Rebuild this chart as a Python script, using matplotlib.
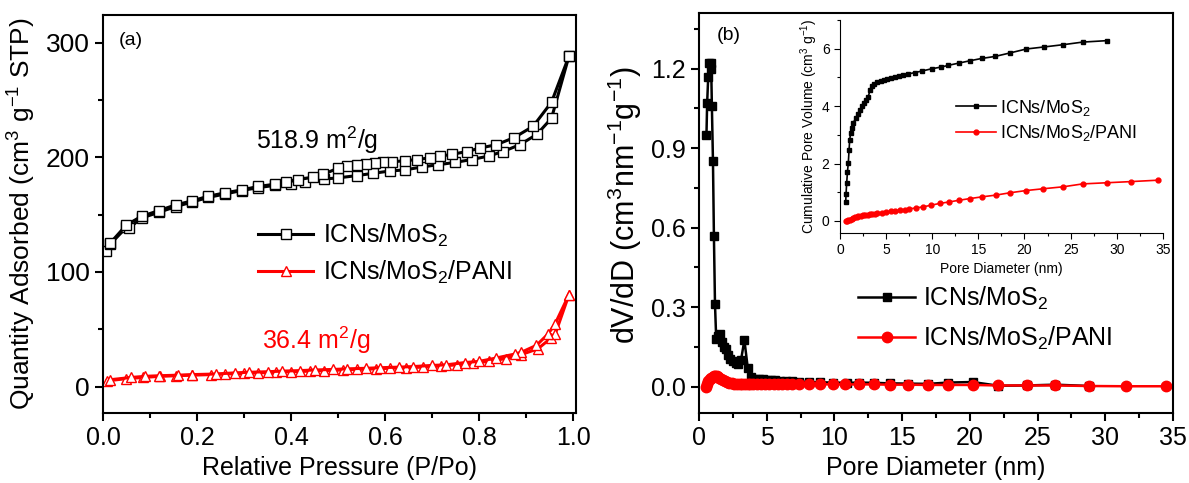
import matplotlib
matplotlib.use('Agg')
import matplotlib.pyplot as plt
from matplotlib.ticker import MultipleLocator

plt.rcParams['font.family'] = ['Liberation Sans', 'DejaVu Sans']
plt.rcParams['mathtext.fontset'] = 'custom'
plt.rcParams['mathtext.rm'] = 'Liberation Sans'
plt.rcParams['mathtext.it'] = 'Liberation Sans:italic'

# ---- (a) N2 isotherms ----
mos2_ads_p = [0.007, 0.015, 0.05, 0.055, 0.082, 0.119, 0.155, 0.19, 0.224, 0.26, 0.295, 0.33,
              0.366, 0.40, 0.43, 0.47, 0.50, 0.54, 0.575, 0.61, 0.643, 0.678, 0.713, 0.749,
              0.784, 0.82, 0.851, 0.887, 0.923, 0.954, 0.991]
mos2_ads_q = [118, 124, 139, 138, 147, 152, 157, 161, 165, 168, 171, 173.5,
              175.5, 177, 178.5, 181, 182, 184, 186, 188, 189, 191.5, 193.5, 195.5,
              198, 201, 205, 211, 220, 234, 288]
mos2_des_p = [0.991, 0.954, 0.915, 0.874, 0.837, 0.802, 0.774, 0.742, 0.717, 0.696, 0.668,
              0.643, 0.614, 0.596, 0.578, 0.56, 0.54, 0.52, 0.50, 0.468, 0.446, 0.415,
              0.39, 0.366, 0.33, 0.295, 0.26, 0.224, 0.19, 0.155, 0.119, 0.082, 0.05, 0.015]
mos2_des_q = [288, 248, 227, 217, 211, 208, 205, 202.5, 201, 199.5, 198,
              197, 196, 195.5, 194.8, 194, 193, 192, 190.5, 185, 182.5, 180.5,
              178, 176.5, 174.5, 171.5, 169, 166, 162, 158.5, 153.5, 148.5, 141, 125]

pani_ads_p = [0.008, 0.05, 0.086, 0.121, 0.156, 0.19, 0.23, 0.26, 0.30, 0.33, 0.367, 0.40,
              0.44, 0.47, 0.51, 0.54, 0.58, 0.61, 0.645, 0.68, 0.72, 0.752, 0.788, 0.82,
              0.857, 0.89, 0.925, 0.952, 0.962, 0.991]
pani_ads_q = [5, 7, 8, 9, 9.5, 10, 10.5, 11, 11.5, 12, 12.5, 13,
              13.5, 14, 14.5, 15, 15.5, 16, 16.5, 17, 18, 19, 20.5, 22,
              24.5, 28, 33, 42, 46, 80]
pani_des_p = [0.991, 0.962, 0.947, 0.922, 0.89, 0.877, 0.837, 0.80, 0.77, 0.73, 0.70, 0.66,
              0.63, 0.59, 0.56, 0.52, 0.49, 0.45, 0.42, 0.38, 0.35, 0.31, 0.28, 0.24,
              0.19, 0.16, 0.12, 0.09, 0.06, 0.015]
pani_des_q = [80, 55, 46, 36, 30, 28.5, 25, 22, 21, 19, 18.5, 17.5,
              17, 16.5, 16, 15.5, 15, 14.5, 14, 13.5, 13, 12.5, 12, 11,
              10.5, 10, 9.5, 9, 8, 6]

# ---- (b) pore size distribution ----
mos2_d = [0.55, 0.6, 0.68, 0.75, 0.85, 0.9, 0.95, 1.03, 1.1, 1.18, 1.27, 1.4, 1.55, 1.7,
          1.85, 2.0, 2.15, 2.3, 2.5, 2.7, 2.9, 3.1, 3.35, 3.6, 3.85, 4.1, 4.4, 4.7, 5.0,
          5.3, 5.6, 6.0, 6.4, 6.9, 7.4, 8.1, 8.9, 9.9, 10.9, 11.8, 12.9, 14.1, 15.4,
          16.9, 18.4, 20.2, 22.1, 24.2, 26.3, 28.8]
mos2_dv = [0.95, 1.07, 1.17, 1.22, 1.22, 1.2, 1.06, 0.85, 0.57, 0.31, 0.18, 0.19, 0.2, 0.17,
           0.15, 0.14, 0.12, 0.105, 0.095, 0.09, 0.085, 0.1, 0.175, 0.07, 0.035, 0.03, 0.028,
           0.027, 0.026, 0.025, 0.024, 0.022, 0.02, 0.019, 0.018, 0.018, 0.016, 0.015, 0.014,
           0.015, 0.014, 0.012, 0.011, 0.01, 0.015, 0.017, 0.003, 0.004, 0.007, 0.002]
pani_d = [0.5, 0.6, 0.7, 0.8, 0.9, 1.0, 1.1, 1.2, 1.3, 1.4, 1.5, 1.6, 1.75, 1.9, 2.05, 2.2,
          2.4, 2.6, 2.8, 3.0, 3.2, 3.4, 3.6, 3.8, 4.0, 4.3, 4.6, 4.9, 5.2, 5.5, 5.8, 6.1,
          6.5, 6.9, 7.4, 8.1, 8.9, 9.9, 10.8, 11.8, 12.9, 14.1, 15.4, 16.9, 18.4, 20.2,
          22.1, 24.2, 26.3, 28.8, 31.5, 34.5]
pani_dv = [0.0, 0.008, 0.02, 0.028, 0.033, 0.036, 0.038, 0.04, 0.039, 0.037, 0.034, 0.03,
           0.025, 0.02, 0.016, 0.013, 0.012, 0.011, 0.011, 0.011, 0.011, 0.011, 0.01, 0.01,
           0.01, 0.01, 0.01, 0.01, 0.01, 0.009, 0.009, 0.009, 0.009, 0.009, 0.009, 0.009,
           0.009, 0.008, 0.008, 0.008, 0.008, 0.007, 0.007, 0.006, 0.006, 0.006, 0.004,
           0.004, 0.004, 0.002, 0.001, 0.001]

# inset: cumulative pore volume
cum_mos2_d = [0.62, 0.65, 0.72, 0.8, 0.9, 0.98, 1.05, 1.15, 1.28, 1.4, 1.73, 1.98, 2.17,
              2.42, 2.64, 2.82, 3.07, 3.25, 3.43, 3.72, 4.04, 4.4, 4.77, 5.13, 5.53, 5.96,
              6.4, 6.87, 7.41, 8.13, 8.85, 9.93, 10.95, 11.74, 12.9, 14.09, 15.35, 16.8,
              18.4, 20.2, 22.1, 24.2, 26.3, 28.9]
cum_mos2_v = [0.67, 0.93, 1.31, 1.69, 2.03, 2.48, 2.83, 3.06, 3.24, 3.41, 3.58, 3.72, 3.87,
              3.99, 4.1, 4.22, 4.33, 4.57, 4.71, 4.78, 4.84, 4.88, 4.92, 4.95, 4.99, 5.03,
              5.06, 5.09, 5.12, 5.17, 5.22, 5.3, 5.36, 5.42, 5.5, 5.58, 5.66, 5.73,
              5.85, 5.99, 6.06, 6.14, 6.23, 6.28]
cum_pani_d = [0.6, 0.75, 0.9, 1.05, 1.26, 1.45, 1.62, 1.8, 1.98, 2.25, 2.5, 2.75, 3.0, 3.25,
              3.5, 3.75, 4.0, 4.5, 5.0, 5.5, 6.0, 6.5, 7.0, 7.5, 8.2, 9.0, 9.9, 10.8, 11.8,
              12.9, 14.1, 15.4, 16.9, 18.4, 20.2, 22.0, 24.2, 26.3, 28.9, 31.5, 34.5]
cum_pani_v = [0.0, 0.01, 0.02, 0.04, 0.06, 0.09, 0.12, 0.14, 0.16, 0.175, 0.19, 0.205, 0.22,
              0.23, 0.24, 0.255, 0.27, 0.29, 0.31, 0.33, 0.35, 0.37, 0.39, 0.42, 0.45, 0.49,
              0.55, 0.61, 0.66, 0.72, 0.78, 0.84, 0.9, 0.98, 1.06, 1.12, 1.19, 1.29, 1.33,
              1.37, 1.42]

lab1 = 'ICNs/MoS$_2$'
lab2 = 'ICNs/MoS$_2$/PANI'

fig = plt.figure(figsize=(11.89, 4.83), dpi=100)

def style_axes(ax, fs=18, major=6, minor=3.5, width=1.5):
    for s in ax.spines.values():
        s.set_linewidth(width)
    ax.tick_params(which='major', direction='out', length=major, width=width,
                   labelsize=fs, top=False, right=False)
    ax.tick_params(which='minor', direction='out', length=minor, width=width,
                   top=False, right=False)

# panel (a)
ax1 = fig.add_axes([0.0866, 0.1449, 0.3978, 0.824])
ax1.plot(mos2_ads_p, mos2_ads_q, color='black', lw=2.2, marker='s', ms=6.5,
         mfc='white', mec='black', mew=1.0, label=lab1)
ax1.plot(mos2_des_p, mos2_des_q, color='black', lw=2.2, marker='s', ms=6.5,
         mfc='white', mec='black', mew=1.0)
ax1.plot(pani_ads_p, pani_ads_q, color='red', lw=2.2, marker='^', ms=7.5,
         mfc='white', mec='red', mew=1.0, label=lab2)
ax1.plot(pani_des_p, pani_des_q, color='red', lw=2.2, marker='^', ms=7.5,
         mfc='white', mec='red', mew=1.0)
ax1.set_xlim(0, 1.006)
ax1.set_ylim(-23, 324)
ax1.xaxis.set_major_locator(MultipleLocator(0.2))
ax1.xaxis.set_minor_locator(MultipleLocator(0.1))
ax1.yaxis.set_major_locator(MultipleLocator(100))
ax1.yaxis.set_minor_locator(MultipleLocator(50))
ax1.xaxis.set_major_formatter(plt.FormatStrFormatter('%.1f'))
style_axes(ax1)
ax1.tick_params(axis='y', labelsize=19)
ax1.set_xlabel('Relative Pressure (P/Po)', fontsize=18)
ax1.set_ylabel('Quantity Adsorbed (cm$^3$ g$^{-1}$ STP)', fontsize=19)
ax1.xaxis.set_label_coords(0.5, -0.108)
ax1.yaxis.set_label_coords(-0.138, 0.5)
ax1.text(0.034, 302, '(a)', fontsize=14, va='center', ha='left')
ax1.text(0.326, 215, '518.9 m$^2$/g', fontsize=18, va='center', ha='left')
ax1.text(0.338, 40, '36.4 m$^2$/g', fontsize=18, va='center', ha='left', color='red')
ax1.legend(loc='upper left', bbox_to_anchor=(0.328, 0.48), frameon=False, fontsize=18,
           handlelength=2.2, handletextpad=0.4, borderpad=0, borderaxespad=0,
           labelspacing=0.4)

# panel (b)
ax2 = fig.add_axes([0.5879, 0.1449, 0.3987, 0.828])
ax2.plot(mos2_d, mos2_dv, color='black', lw=1.8, marker='s', ms=6, label=lab1)
ax2.plot(pani_d, pani_dv, color='red', lw=1.8, marker='o', ms=7.5, label=lab2)
ax2.set_xlim(0, 35)
ax2.set_ylim(-0.1, 1.41)
ax2.xaxis.set_major_locator(MultipleLocator(5))
ax2.xaxis.set_minor_locator(MultipleLocator(2.5))
ax2.yaxis.set_major_locator(MultipleLocator(0.3))
ax2.yaxis.set_minor_locator(MultipleLocator(0.15))
ax2.yaxis.set_major_formatter(plt.FormatStrFormatter('%.1f'))
style_axes(ax2)
ax2.set_xlabel('Pore Diameter (nm)', fontsize=18)
ax2.set_ylabel('dV/dD (cm$^3$nm$^{-1}$g$^{-1}$)', fontsize=22)
ax2.xaxis.set_label_coords(0.5, -0.108)
ax2.yaxis.set_label_coords(-0.115, 0.52)
ax2.text(1.33, 1.325, '(b)', fontsize=14, va='center', ha='left')
ax2.legend(loc='upper left', bbox_to_anchor=(0.335, 0.32), frameon=False, fontsize=18,
           handlelength=2.3, handletextpad=0.3, borderpad=0, borderaxespad=0,
           labelspacing=0.5)

# inset
ax3 = fig.add_axes([0.7065, 0.5176, 0.2715, 0.441])
ax3.plot(cum_mos2_d, cum_mos2_v, color='black', lw=1.2, marker='s', ms=3, label=lab1)
ax3.plot(cum_pani_d, cum_pani_v, color='red', lw=1.2, marker='o', ms=3.5, label=lab2)
ax3.set_xlim(0, 35)
ax3.set_ylim(-0.42, 7.0)
ax3.xaxis.set_major_locator(MultipleLocator(5))
ax3.xaxis.set_minor_locator(MultipleLocator(2.5))
ax3.yaxis.set_major_locator(MultipleLocator(2))
ax3.yaxis.set_minor_locator(MultipleLocator(1))
ax3.spines['top'].set_visible(False)
ax3.spines['right'].set_visible(False)
ax3.patch.set_alpha(0)
style_axes(ax3, fs=10, major=4, minor=2.5, width=0.8)
ax3.set_xlabel('Pore Diameter (nm)', fontsize=10)
ax3.set_ylabel('Cumulative Pore Volume (cm$^3$ g$^{-1}$)', fontsize=10)
ax3.xaxis.set_label_coords(0.5, -0.136)
ax3.yaxis.set_label_coords(-0.062, 0.5)
ax3.legend(loc='upper left', bbox_to_anchor=(0.36, 0.635), frameon=False, fontsize=13,
           handlelength=2.2, handletextpad=0.2, borderpad=0, borderaxespad=0,
           labelspacing=0.3)

fig.savefig('out.png', dpi=100)
